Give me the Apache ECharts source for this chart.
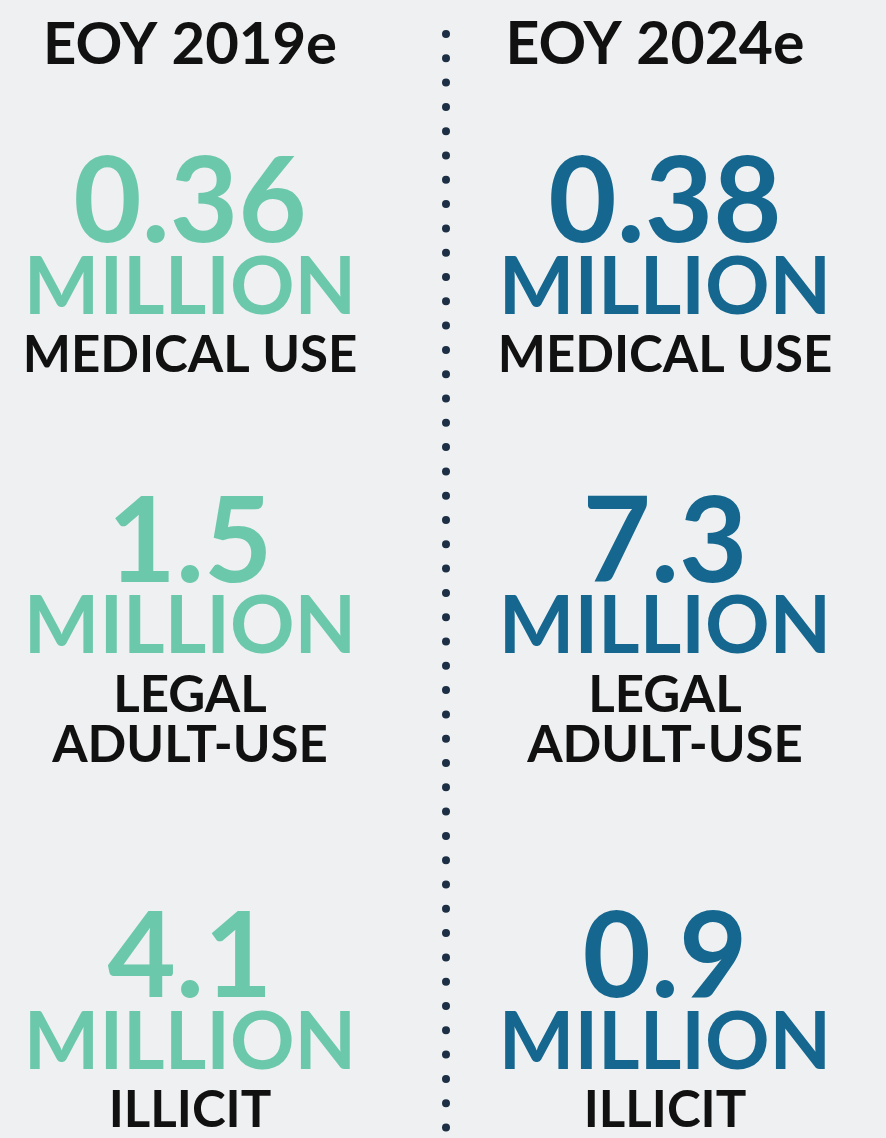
<!DOCTYPE html>
<html>
<head>
<meta charset="utf-8">
<script src="https://cdn.jsdelivr.net/npm/echarts@6/dist/echarts.min.js"></script>
<style>
  html, body { margin: 0; padding: 0; background: #eef0f2; }
  #chart { width: 886px; height: 1138px; }
</style>
</head>
<body>
<div id="chart"></div>
<script>
// ---- data ----
const years = ['EOY 2019e', 'EOY 2024e'];
const categories = ['MEDICAL USE', 'LEGAL\nADULT-USE', 'ILLICIT'];
const values2019 = [0.36, 1.5, 4.1];
const values2024 = [0.38, 7.3, 0.9];
const unitLabel = 'MILLION';

// ---- style / layout ----
const FONT = 'Lato';
const colors = ['#6cc8ab', '#15678f'];
const rowNudge = [12, -25, 14];

const chart = echarts.init(document.getElementById('chart'), null, { renderer: 'canvas' });

function makeSeries(name, vals, xi) {
  return {
    type: 'scatter',
    name: name,
    symbolSize: 0,
    silent: true,
    itemStyle: { opacity: 1, color: colors[xi] },
    data: vals.map((v, i) => ({
      value: [xi, i, v],
      label: { offset: [0, rowNudge[i]] }
    })),
    label: {
      show: true,
      opacity: 1,
      position: 'bottom',
      distance: 0,
      align: 'center',
      verticalAlign: 'top',
      formatter: p => {
        const cat = categories[p.dataIndex].split('\n').map(s => '{cat|' + s + '}').join('\n');
        return '{num|' + String(p.value[2]) + '}\n{unit|' + unitLabel + '}\n' + cat;
      },
      rich: {
        num: { fontFamily: FONT, fontWeight: 'bold', fontSize: 118, lineHeight: 82, color: colors[xi], align: 'center' },
        unit: { fontFamily: FONT, fontWeight: 'bold', fontSize: 80, lineHeight: 86, color: colors[xi], align: 'center' },
        cat: { fontFamily: FONT, fontWeight: 'bold', fontSize: 51, lineHeight: 50, color: '#111111', align: 'center' }
      }
    }
  };
}

const option = {
  backgroundColor: '#eef0f2',
  animation: false,
  grid: { left: 190, right: 221, top: 151, bottom: 234, containLabel: false },
  xAxis: {
    type: 'category',
    data: years,
    position: 'top',
    boundaryGap: false,
    axisLine: { show: false },
    axisTick: { show: false },
    splitLine: { show: false },
    axisLabel: {
      margin: 78,
      interval: 0,
      formatter: (v, i) => i === 1 ? '{r|' + v + '}' : '{l|' + v + '}',
      rich: {
        l: { fontFamily: FONT, fontWeight: 'bold', fontSize: 58, lineHeight: 56, color: '#111111' },
        r: { fontFamily: FONT, fontWeight: 'bold', fontSize: 59, lineHeight: 56, color: '#111111', padding: [0, 20, 0, 0] }
      }
    }
  },
  yAxis: {
    type: 'category',
    data: categories,
    inverse: true,
    boundaryGap: false,
    axisLine: { show: false },
    axisTick: { show: false },
    axisLabel: { show: false },
    splitLine: { show: false }
  },
  graphic: [{
    type: 'line',
    silent: true,
    shape: { x1: 446, y1: 34, x2: 446, y2: 1150 },
    style: { stroke: '#1c2f44', lineWidth: 8, lineDash: [0, 24.3], lineCap: 'round' }
  }],
  series: [
    makeSeries(years[0], values2019, 0),
    makeSeries(years[1], values2024, 1)
  ]
};
chart.setOption(option);
</script>
</body>
</html>
